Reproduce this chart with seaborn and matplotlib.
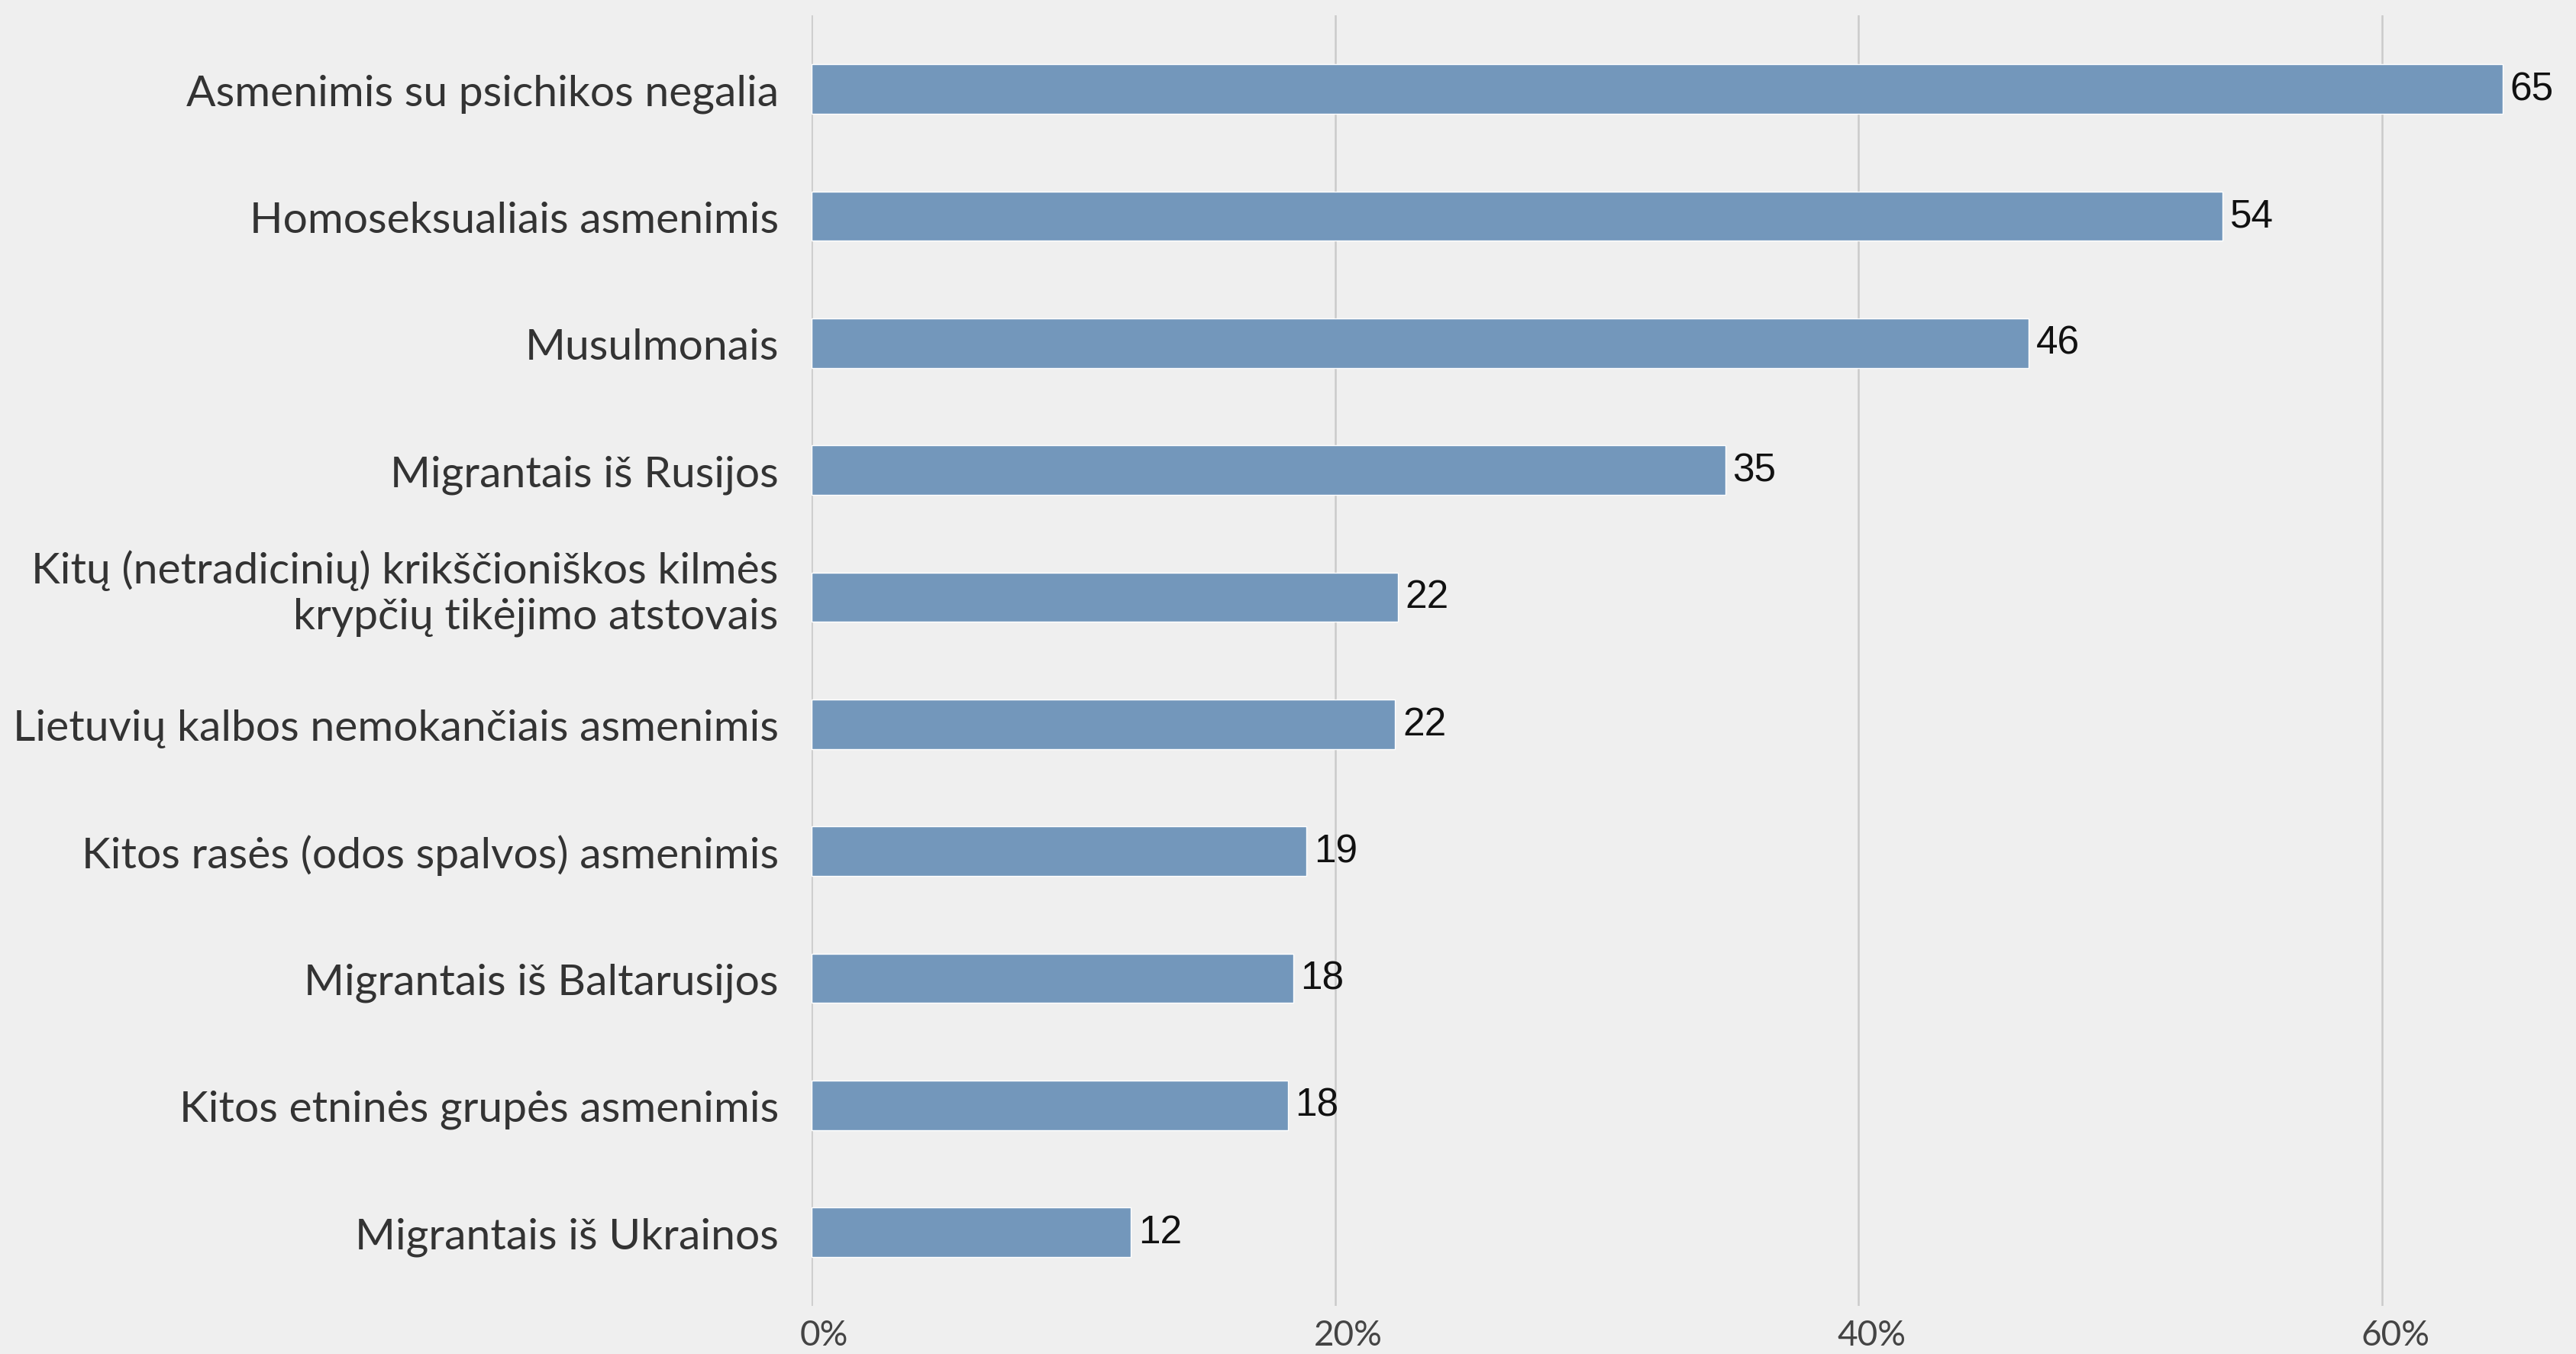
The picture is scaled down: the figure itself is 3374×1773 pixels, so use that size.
import matplotlib
matplotlib.use("Agg")
import matplotlib.pyplot as plt
import matplotlib.transforms as mtransforms
import seaborn as sns
import pandas as pd
from matplotlib.ticker import FuncFormatter

categories = [
    "Asmenimis su psichikos negalia",
    "Homoseksualiais asmenimis",
    "Musulmonais",
    "Migrantais iš Rusijos",
    "Kitų (netradicinių) krikščioniškos kilmės\nkrypčių tikėjimo atstovais",
    "Lietuvių kalbos nemokančiais asmenimis",
    "Kitos rasės (odos spalvos) asmenimis",
    "Migrantais iš Baltarusijos",
    "Kitos etninės grupės asmenimis",
    "Migrantais iš Ukrainos",
]
values = [64.6, 53.9, 46.5, 34.9, 22.4, 22.3, 18.9, 18.4, 18.2, 12.2]
xticks = [0, 20, 40, 60]

BG = "#efefef"
BAR = "#7397bb"

sns.set_theme(style="whitegrid")
plt.rcParams["font.family"] = ["Lato", "DejaVu Sans"]

df = pd.DataFrame({"cat": categories, "val": values})

fig = plt.figure(figsize=(33.74, 17.74), dpi=100, facecolor=BG)
ax = fig.add_axes([0.315, 0.0355, 0.685, 0.9525])
ax.set_facecolor(BG)

sns.barplot(data=df, y="cat", x="val", orient="h", color=BAR, width=0.39,
            saturation=1, ax=ax, zorder=2)

ax.set_xlim(0, 67.4)
ax.set_ylim(9.58, -0.58)
ax.set_xticks(xticks)
ax.xaxis.set_major_formatter(FuncFormatter(lambda v, p: f"{int(v)}%"))
ax.grid(axis="x", color="#cacaca", linewidth=1.8, zorder=0)
ax.grid(axis="y", visible=False)
for s in ax.spines.values():
    s.set_visible(False)
ax.set_xlabel("")
ax.set_ylabel("")
ax.tick_params(axis="y", length=0, pad=31, labelsize=41, labelcolor="#333333")
ax.tick_params(axis="x", length=0, pad=12, labelsize=33, labelcolor="#444444")

shift_x = mtransforms.ScaledTranslation(0.17, 0, fig.dpi_scale_trans)
for t in ax.get_xticklabels():
    t.set_transform(t.get_transform() + shift_x)
shift_up = mtransforms.ScaledTranslation(0, 0.15, fig.dpi_scale_trans)
for t in ax.get_yticklabels():
    t.set_linespacing(1.2)
    if "\n" in t.get_text():
        t.set_transform(t.get_transform() + shift_up)

for c in ax.containers:
    ax.bar_label(c, labels=[f"{round(v)}" for v in values], padding=7,
                 fontsize=37, color="#111111", family=["Liberation Sans", "DejaVu Sans"])

fig.savefig("out.png", dpi=100, facecolor=BG)
